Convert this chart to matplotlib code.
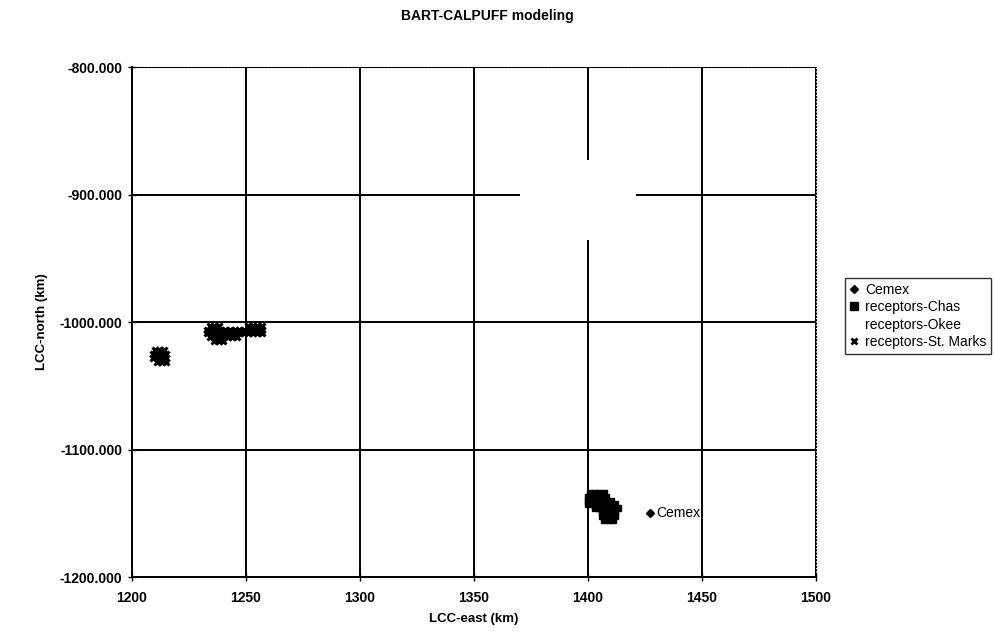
import matplotlib
matplotlib.use("Agg")
import matplotlib.pyplot as plt
from matplotlib.lines import Line2D
from matplotlib.patches import Rectangle

plt.rcParams['font.family'] = ['Liberation Sans', 'DejaVu Sans']

# Cemex source
cemex_x = [1427]
cemex_y = [-1150]

# receptors-Chas (squares)
chas_x = [1401, 1403, 1405, 1407,
          1400, 1402, 1404, 1406, 1408,
          1400, 1402, 1404, 1406, 1408, 1410,
          1400, 1402, 1404, 1406, 1408, 1410, 1412,
          1403, 1405, 1407, 1409, 1411, 1413,
          1406, 1408, 1410, 1412,
          1406, 1408, 1410, 1412,
          1407, 1409, 1411]
chas_y = [-1134] * 4 + [-1137] * 5 + [-1140] * 6 + [-1143] * 7 + \
         [-1146] * 6 + [-1149] * 4 + [-1152] * 4 + [-1155] * 3

# receptors-Okee (no visible marks in the chart)
okee_x = []
okee_y = []

# receptors-St. Marks (x marks)
stm_x = [1210, 1212, 1214,
         1209, 1211, 1213, 1215,
         1209, 1211, 1213, 1215,
         1211, 1213, 1215,
         1234, 1236, 1238, 1251, 1253, 1255, 1257,
         1233, 1235, 1237, 1239, 1241, 1243, 1245, 1247, 1249, 1251, 1253, 1255, 1257,
         1233, 1235, 1237, 1239, 1241, 1243, 1245, 1247, 1249, 1251, 1253, 1255, 1257,
         1234, 1236, 1238, 1240, 1242, 1244, 1246,
         1236, 1238, 1240]
stm_y = [-1022] * 3 + [-1025] * 4 + [-1028] * 4 + [-1031] * 3 + \
        [-1003] * 7 + [-1006] * 13 + [-1009] * 13 + [-1012] * 7 + [-1015] * 3

x_ticks = [1200, 1250, 1300, 1350, 1400, 1450, 1500]
y_ticks = [-800, -900, -1000, -1100, -1200]

fig = plt.figure(figsize=(9.95, 6.32), dpi=100)
ax = fig.add_axes([132 / 995, 1 - 577 / 632, 684 / 995, 510 / 632])

ax.set_xlim(1200, 1500)
ax.set_ylim(-1200, -800)
ax.set_xticks(x_ticks)
ax.set_yticks(y_ticks)
ax.set_yticklabels([f"{v:.3f}" for v in y_ticks])
ax.tick_params(direction='inout', length=6, width=1, labelsize=10, pad=4)
ax.tick_params(axis='x', pad=7)
for lab in ax.get_xticklabels() + ax.get_yticklabels():
    lab.set_fontweight('bold')

ax.grid(True, color='black', linewidth=1.4)
ax.set_axisbelow(True)
for s in ['top', 'right']:
    ax.spines[s].set_linestyle((0, (1, 2)))
    ax.spines[s].set_linewidth(0.8)
for s in ['left', 'bottom']:
    ax.spines[s].set_linewidth(1.4)

# blank patch over the grid, as in the scanned original
ax.add_patch(Rectangle((1370, -936), 51, 63, facecolor='white', edgecolor='none', zorder=1.5))

ax.plot(chas_x, chas_y, 's', color='black', markersize=5, zorder=3)
ax.plot(stm_x, stm_y, 'x', color='black', markersize=5, mew=2.2, zorder=3)
ax.plot(okee_x, okee_y, linestyle='none', zorder=3)
ax.plot(cemex_x, cemex_y, 'D', color='black', markersize=4.5, zorder=3)
ax.annotate("Cemex", (cemex_x[0], cemex_y[0]), xytext=(5, 0), textcoords='offset points',
            va='center', ha='left', fontsize=10)

ax.set_xlabel("LCC-east (km)", fontsize=9.5, fontweight='bold', labelpad=6)
ax.set_ylabel("LCC-north (km)", fontsize=9.5, fontweight='bold', labelpad=8)
fig.text(487 / 995, 1 - 16 / 632, "BART-CALPUFF modeling", ha='center', va='center',
         fontsize=10, fontweight='bold')

handles = [
    Line2D([], [], marker='D', color='black', linestyle='none', markersize=4.5),
    Line2D([], [], marker='s', color='black', linestyle='none', markersize=6),
    Line2D([], [], linestyle='none'),
    Line2D([], [], marker='x', color='black', linestyle='none', markersize=5, mew=2),
]
labels = ["Cemex", "receptors-Chas", "receptors-Okee", "receptors-St. Marks"]
leg = fig.legend(handles, labels, loc='upper left', bbox_to_anchor=(845 / 995, 1 - 278 / 632),
                 fontsize=10, frameon=True, fancybox=False, handlelength=0.6,
                 handletextpad=0.5, borderpad=0.35, labelspacing=0.25, borderaxespad=0)
leg.get_frame().set_edgecolor('black')
leg.get_frame().set_linewidth(1)

fig.savefig("out.png", dpi=100)
